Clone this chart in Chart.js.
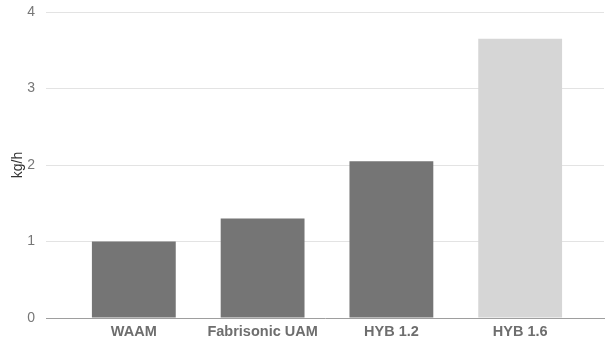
<!DOCTYPE html>
<html><head><meta charset="utf-8">
<script src="https://cdn.jsdelivr.net/npm/chart.js@4/dist/chart.umd.min.js"></script>
<style>html,body{margin:0;padding:0;background:#fff}#w{width:610px;height:344px}</style>
</head><body><div id="w"><canvas id="c" width="610" height="344"></canvas></div>
<script>
const categories = ["WAAM", "Fabrisonic UAM", "HYB 1.2", "HYB 1.6"];
const values = [1.0, 1.3, 2.05, 3.65];
const barColors = ["#757575", "#757575", "#757575", "#d6d6d6"];
const yTicks = [0, 1, 2, 3, 4];
const yTitle = "kg/h";

new Chart(document.getElementById('c'), {
  type: 'bar',
  data: {
    datasets: [{
      data: values.map((v, i) => ({x: i, y: v})),
      backgroundColor: barColors,
      borderWidth: 0,
      barPercentage: 0.651,
      categoryPercentage: 1
    }]
  },
  options: {
    responsive: false,
    animation: false,
    layout: {padding: {left: 0, right: 6, top: 12, bottom: 0}},
    plugins: {legend: {display: false}, tooltip: {enabled: false}},
    scales: {
      x: {
        type: 'linear',
        offset: false,
        min: -0.682,
        max: 3.651,
        afterBuildTicks: s => { s.ticks = categories.map((c, i) => ({value: i})); },
        afterFit: s => { s.height = 26; s.paddingLeft = 0; s.paddingRight = 0; },
        ticks: {
          autoSkip: false, maxRotation: 0, padding: 5,
          color: '#6e6e6e',
          font: {family: 'Liberation Sans, Arial, sans-serif', size: 14.5, weight: 'bold'},
          callback: v => categories[v]
        },
        grid: {display: false, drawTicks: false},
        border: {display: true, color: '#9e9e9e', width: 1}
      },
      y: {
        min: 0, max: 4,
        afterBuildTicks: s => { s.ticks = yTicks.map(v => ({value: v})); },
        afterFit: s => { s.width = 46; s.paddingTop = 0; s.paddingBottom = 0; },
        ticks: {
          padding: 11, color: '#777',
          font: {family: 'Liberation Sans, Arial, sans-serif', size: 14}
        },
        grid: {color: ctx => ctx.tick && ctx.tick.value === 0 ? 'rgba(0,0,0,0)' : '#e3e3e3', drawTicks: false},
        border: {display: false},
        title: {
          display: true, text: yTitle, color: '#333', padding: {top: 10, bottom: 0},
          font: {family: 'Liberation Sans, Arial, sans-serif', size: 14}
        }
      }
    }
  }
});
</script></body></html>
